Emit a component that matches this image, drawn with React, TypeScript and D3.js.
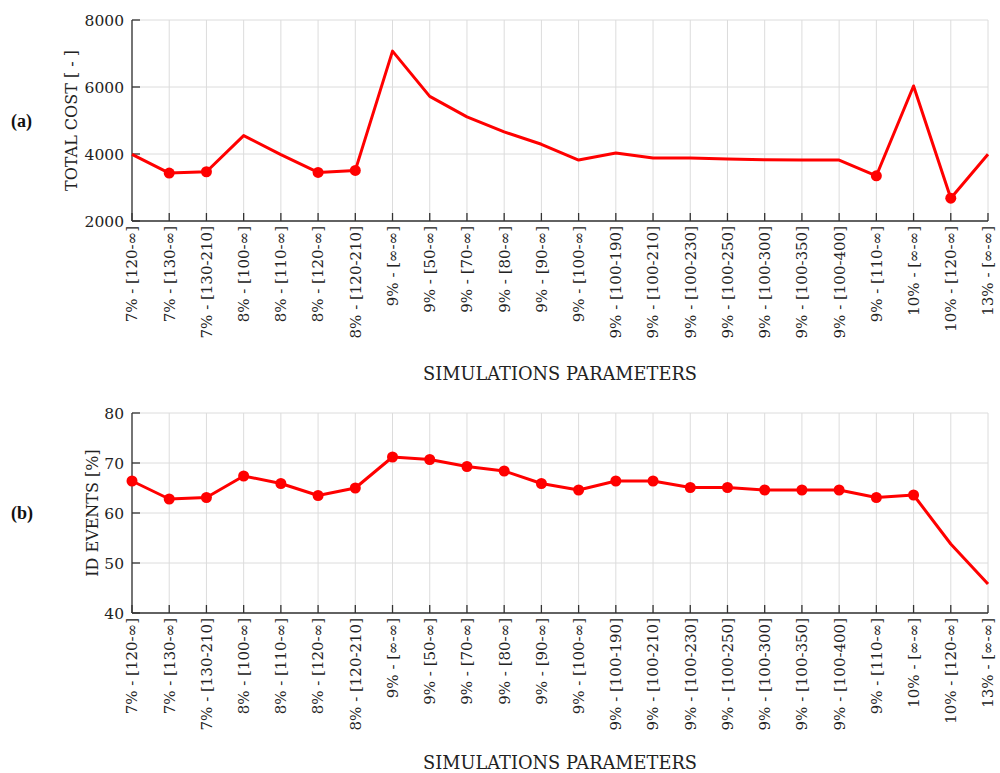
import { useRef, useEffect } from "react";
import * as d3 from "d3";

const categories = [
  "7% - [120-∞]",
  "7% - [130-∞]",
  "7% - [130-210]",
  "8% - [100-∞]",
  "8% - [110-∞]",
  "8% - [120-∞]",
  "8% - [120-210]",
  "9% - [∞-∞]",
  "9% - [50-∞]",
  "9% - [70-∞]",
  "9% - [80-∞]",
  "9% - [90-∞]",
  "9% - [100-∞]",
  "9% - [100-190]",
  "9% - [100-210]",
  "9% - [100-230]",
  "9% - [100-250]",
  "9% - [100-300]",
  "9% - [100-350]",
  "9% - [100-400]",
  "9% - [110-∞]",
  "10% - [∞-∞]",
  "10% - [120-∞]",
  "13% - [∞-∞]",
];

const totalCost = [
  3990, 3430, 3470, 4550, 3980, 3450, 3510, 7070, 5720, 5110, 4660, 4290,
  3820, 4030, 3880, 3880, 3850, 3830, 3820, 3820, 3350, 6030, 2680, 3990,
];
// indices of points drawn with a marker
const totalCostMarked = [1, 2, 5, 6, 20, 22];
const costTicks = [2000, 4000, 6000, 8000];

const idEvents = [
  66.4, 62.8, 63.1, 67.4, 65.9, 63.5, 65.0, 71.2, 70.7, 69.3, 68.4, 65.9,
  64.6, 66.4, 66.4, 65.1, 65.1, 64.6, 64.6, 64.6, 63.1, 63.6, 53.8, 45.8,
];
const idEventsMarked = d3.range(0, 22);
const eventTicks = [40, 50, 60, 70, 80];

const FONT = "'DejaVu Serif', 'Liberation Serif', serif";
const BOLD_FONT = "'Liberation Serif', serif";

export default function App() {
  const svgRef = useRef<SVGSVGElement>(null);

  useEffect(() => {
    document.body.style.margin = "0";
    if (!svgRef.current) return;
    const svg = d3.select(svgRef.current);
    svg.selectAll("*").remove();

    const left = 132;
    const right = 988;

    const x = d3
      .scalePoint<number>()
      .domain(d3.range(categories.length))
      .range([left, right]);

    function panel(opts: {
      top: number;
      bottom: number;
      values: number[];
      marked: number[];
      ticks: number[];
      title: string;
      titleX: number;
      letter: string;
      xTitleY: number;
    }) {
      const { top, bottom, values, marked, ticks } = opts;
      const y = d3
        .scaleLinear()
        .domain([ticks[0], ticks[ticks.length - 1]])
        .range([bottom, top]);
      const g = svg.append("g");

      // grid
      g.selectAll(".vgrid")
        .data(d3.range(categories.length))
        .enter()
        .append("line")
        .attr("x1", (d) => x(d)!)
        .attr("x2", (d) => x(d)!)
        .attr("y1", top)
        .attr("y2", bottom)
        .attr("stroke", "#dcdcdc")
        .attr("stroke-width", 1);
      g.selectAll(".hgrid")
        .data(ticks)
        .enter()
        .append("line")
        .attr("x1", left)
        .attr("x2", right)
        .attr("y1", (d) => y(d))
        .attr("y2", (d) => y(d))
        .attr("stroke", "#dcdcdc")
        .attr("stroke-width", 1);

      // axes
      g.append("line")
        .attr("x1", left)
        .attr("x2", right)
        .attr("y1", bottom)
        .attr("y2", bottom)
        .attr("stroke", "#333")
        .attr("stroke-width", 1.3);
      g.append("line")
        .attr("x1", left)
        .attr("x2", left)
        .attr("y1", top)
        .attr("y2", bottom)
        .attr("stroke", "#333")
        .attr("stroke-width", 1.3);
      g.selectAll(".xtick")
        .data(d3.range(categories.length))
        .enter()
        .append("line")
        .attr("x1", (d) => x(d)!)
        .attr("x2", (d) => x(d)!)
        .attr("y1", bottom)
        .attr("y2", bottom - 8)
        .attr("stroke", "#333")
        .attr("stroke-width", 1.3);
      g.selectAll(".ytick")
        .data(ticks)
        .enter()
        .append("line")
        .attr("x1", left)
        .attr("x2", left + 8)
        .attr("y1", (d) => y(d))
        .attr("y2", (d) => y(d))
        .attr("stroke", "#333")
        .attr("stroke-width", 1.3);

      // tick labels
      g.selectAll(".ylab")
        .data(ticks)
        .enter()
        .append("text")
        .attr("x", left - 8)
        .attr("y", (d) => y(d))
        .attr("dy", "0.36em")
        .attr("text-anchor", "end")
        .attr("font-family", FONT)
        .attr("font-size", 15.5)
        .attr("fill", "#222")
        .text((d) => d);
      g.selectAll(".xlab")
        .data(categories)
        .enter()
        .append("text")
        .attr(
          "transform",
          (_, i) => `translate(${x(i)},${bottom + 5}) rotate(-90)`
        )
        .attr("dy", "0.36em")
        .attr("text-anchor", "end")
        .attr("font-family", FONT)
        .attr("font-size", 15)
        .attr("fill", "#222")
        .text((d) => d);

      // titles
      g.append("text")
        .attr(
          "transform",
          `translate(${opts.titleX},${(top + bottom) / 2}) rotate(-90)`
        )
        .attr("text-anchor", "middle")
        .attr("font-family", FONT)
        .attr("font-size", 16)
        .attr("fill", "#222")
        .text(opts.title);
      g.append("text")
        .attr("x", 560)
        .attr("y", opts.xTitleY)
        .attr("text-anchor", "middle")
        .attr("font-family", FONT)
        .attr("font-size", 17.8)
        .attr("fill", "#222")
        .text("SIMULATIONS PARAMETERS");
      g.append("text")
        .attr("x", 11)
        .attr("y", (top + bottom) / 2)
        .attr("dy", "0.35em")
        .attr("font-family", BOLD_FONT)
        .attr("font-size", 18)
        .attr("font-weight", "bold")
        .attr("fill", "#111")
        .text(opts.letter);

      // series
      const line = d3
        .line<number>()
        .x((_, i) => x(i)!)
        .y((d) => y(d));
      g.append("path")
        .datum(values)
        .attr("d", line)
        .attr("fill", "none")
        .attr("stroke", "#ff0000")
        .attr("stroke-width", 3)
        .attr("stroke-linejoin", "round");
      g.selectAll(".pt")
        .data(marked)
        .enter()
        .append("circle")
        .attr("cx", (i) => x(i)!)
        .attr("cy", (i) => y(values[i]))
        .attr("r", 5.5)
        .attr("fill", "#ff0000");
    }

    panel({
      top: 20,
      bottom: 221,
      values: totalCost,
      marked: totalCostMarked,
      ticks: costTicks,
      title: "TOTAL COST [ - ]",
      titleX: 77,
      letter: "(a)",
      xTitleY: 380,
    });
    panel({
      top: 413,
      bottom: 613,
      values: idEvents,
      marked: idEventsMarked,
      ticks: eventTicks,
      title: "ID EVENTS [%]",
      titleX: 98,
      letter: "(b)",
      xTitleY: 769,
    });
  }, []);

  return (
    <svg
      ref={svgRef}
      width={1000}
      height={773}
      style={{ display: "block", background: "#fff" }}
    />
  );
}
